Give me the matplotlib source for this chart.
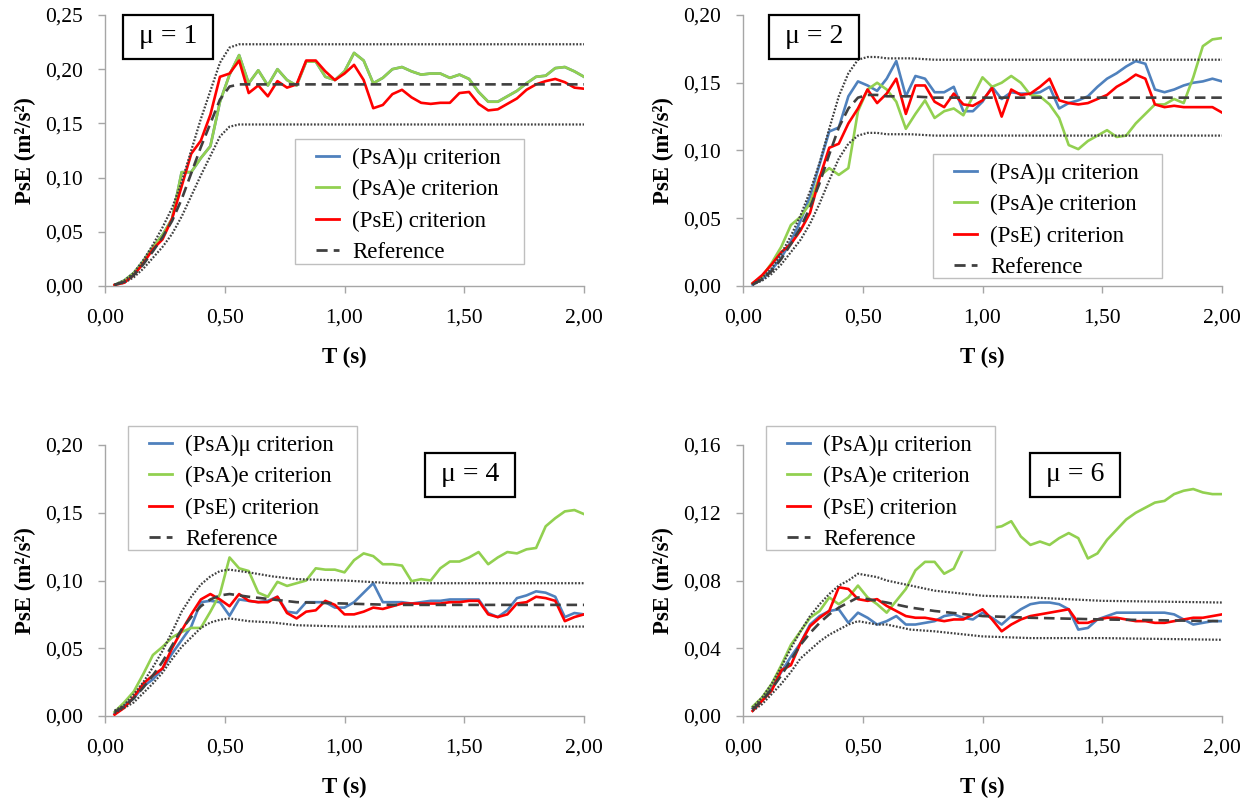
import numpy as np
import matplotlib
matplotlib.use('Agg')
import matplotlib.pyplot as plt
from matplotlib.ticker import FuncFormatter, MultipleLocator
from matplotlib.patches import Rectangle

plt.rcParams['font.family'] = ['Liberation Serif', 'DejaVu Serif']

# period grid of the criterion curves (s)
T = np.round(np.arange(1, 51) * 0.04, 2)
# coarser grid for the reference curve and its bounds
T_ref = [0.04, 0.08, 0.12, 0.16, 0.20, 0.24, 0.28, 0.32, 0.36, 0.40, 0.44, 0.48,
         0.52, 0.56, 0.60, 0.70, 0.80, 1.00, 1.20, 1.50, 2.00]

# ---- mu = 1
g1 = [0.001, 0.005, 0.012, 0.023, 0.036, 0.047, 0.062, 0.105, 0.105, 0.118,
      0.129, 0.170, 0.195, 0.213, 0.187, 0.199, 0.185, 0.200, 0.190, 0.185,
      0.207, 0.207, 0.193, 0.190, 0.198, 0.215, 0.208, 0.187, 0.192, 0.200,
      0.202, 0.198, 0.195, 0.196, 0.196, 0.192, 0.195, 0.191, 0.179, 0.170,
      0.170, 0.175, 0.180, 0.187, 0.193, 0.194, 0.201, 0.202, 0.198, 0.193]
b1 = g1  # (PsA)mu coincides with (PsA)e for mu = 1
r1 = [0.001, 0.003, 0.010, 0.021, 0.034, 0.043, 0.062, 0.092, 0.122, 0.134,
      0.158, 0.193, 0.196, 0.208, 0.178, 0.185, 0.175, 0.189, 0.183, 0.186,
      0.208, 0.208, 0.198, 0.190, 0.196, 0.204, 0.190, 0.164, 0.167, 0.177,
      0.181, 0.174, 0.169, 0.168, 0.169, 0.169, 0.178, 0.179, 0.168, 0.162,
      0.163, 0.168, 0.173, 0.181, 0.186, 0.189, 0.191, 0.188, 0.183, 0.182]
ref1 = [0.001, 0.004, 0.010, 0.020, 0.032, 0.045, 0.060, 0.080, 0.104, 0.128, 0.150,
        0.172, 0.184, 0.186, 0.186, 0.186, 0.186, 0.186, 0.186, 0.186, 0.186]
up1 = [0.001, 0.005, 0.012, 0.024, 0.038, 0.054, 0.072, 0.096, 0.125, 0.154, 0.180,
       0.206, 0.220, 0.223, 0.223, 0.223, 0.223, 0.223, 0.223, 0.223, 0.223]
lo1 = [0.001, 0.003, 0.008, 0.016, 0.026, 0.036, 0.048, 0.064, 0.083, 0.102, 0.120,
       0.138, 0.147, 0.149, 0.149, 0.149, 0.149, 0.149, 0.149, 0.149, 0.149]

# ---- mu = 2
b2 = [0.001, 0.005, 0.012, 0.021, 0.033, 0.048, 0.066, 0.090, 0.114, 0.117,
      0.140, 0.151, 0.148, 0.144, 0.153, 0.166, 0.140, 0.155, 0.153, 0.143,
      0.143, 0.147, 0.129, 0.129, 0.136, 0.147, 0.138, 0.143, 0.142, 0.142,
      0.143, 0.147, 0.131, 0.135, 0.137, 0.140, 0.147, 0.153, 0.157, 0.162,
      0.166, 0.164, 0.145, 0.143, 0.145, 0.148, 0.150, 0.151, 0.153, 0.151]
g2 = [0.002, 0.007, 0.017, 0.029, 0.045, 0.051, 0.061, 0.081, 0.087, 0.082,
      0.087, 0.129, 0.145, 0.150, 0.145, 0.136, 0.116, 0.127, 0.137, 0.124,
      0.129, 0.131, 0.126, 0.140, 0.154, 0.147, 0.150, 0.155, 0.150, 0.141,
      0.140, 0.134, 0.124, 0.104, 0.101, 0.107, 0.111, 0.115, 0.110, 0.111,
      0.120, 0.127, 0.134, 0.134, 0.138, 0.135, 0.154, 0.177, 0.182, 0.183]
r2 = [0.002, 0.008, 0.016, 0.025, 0.031, 0.041, 0.054, 0.080, 0.102, 0.105,
      0.120, 0.131, 0.145, 0.135, 0.142, 0.153, 0.127, 0.148, 0.148, 0.136,
      0.132, 0.142, 0.134, 0.133, 0.137, 0.146, 0.125, 0.145, 0.141, 0.142,
      0.147, 0.153, 0.137, 0.135, 0.134, 0.135, 0.138, 0.141, 0.147, 0.151,
      0.156, 0.153, 0.134, 0.132, 0.133, 0.132, 0.132, 0.132, 0.132, 0.128]
ref2 = [0.001, 0.005, 0.011, 0.020, 0.031, 0.043, 0.058, 0.076, 0.097, 0.117, 0.131,
        0.139, 0.141, 0.141, 0.140, 0.140, 0.139, 0.139, 0.139, 0.139, 0.139]
up2 = [0.001, 0.006, 0.013, 0.024, 0.037, 0.052, 0.070, 0.091, 0.116, 0.140, 0.157,
       0.167, 0.169, 0.169, 0.168, 0.168, 0.167, 0.167, 0.167, 0.167, 0.167]
lo2 = [0.001, 0.004, 0.009, 0.016, 0.025, 0.034, 0.046, 0.061, 0.078, 0.094, 0.105,
       0.111, 0.113, 0.113, 0.112, 0.112, 0.111, 0.111, 0.111, 0.111, 0.111]

# ---- mu = 4
b3 = [0.002, 0.008, 0.013, 0.022, 0.027, 0.035, 0.046, 0.056, 0.066, 0.084,
      0.085, 0.084, 0.074, 0.086, 0.085, 0.084, 0.085, 0.088, 0.077, 0.076,
      0.084, 0.084, 0.084, 0.080, 0.080, 0.084, 0.091, 0.098, 0.084, 0.084,
      0.084, 0.083, 0.084, 0.085, 0.085, 0.086, 0.086, 0.086, 0.086, 0.076,
      0.073, 0.078, 0.087, 0.089, 0.092, 0.091, 0.088, 0.073, 0.076, 0.075]
g3 = [0.003, 0.010, 0.018, 0.031, 0.045, 0.051, 0.058, 0.062, 0.065, 0.065,
      0.077, 0.090, 0.117, 0.109, 0.107, 0.091, 0.088, 0.099, 0.096, 0.098,
      0.100, 0.109, 0.108, 0.108, 0.106, 0.115, 0.120, 0.118, 0.112, 0.112,
      0.111, 0.0995, 0.101, 0.100, 0.109, 0.114, 0.114, 0.117, 0.121, 0.112,
      0.117, 0.121, 0.120, 0.123, 0.124, 0.140, 0.146, 0.151, 0.152, 0.149]
r3 = [0.001, 0.006, 0.014, 0.024, 0.030, 0.035, 0.050, 0.063, 0.075, 0.086,
      0.090, 0.086, 0.081, 0.090, 0.085, 0.084, 0.084, 0.088, 0.076, 0.072,
      0.077, 0.078, 0.085, 0.082, 0.075, 0.075, 0.077, 0.080, 0.079, 0.081,
      0.083, 0.083, 0.083, 0.083, 0.083, 0.084, 0.084, 0.085, 0.085, 0.075,
      0.073, 0.075, 0.083, 0.084, 0.088, 0.087, 0.085, 0.070, 0.073, 0.075]
ref3 = [0.003, 0.007, 0.013, 0.021, 0.030, 0.040, 0.052, 0.064, 0.073, 0.081, 0.086,
        0.089, 0.090, 0.089, 0.088, 0.086, 0.084, 0.083, 0.082, 0.082, 0.082]
up3 = [0.004, 0.008, 0.016, 0.025, 0.036, 0.048, 0.062, 0.077, 0.088, 0.097, 0.103,
       0.107, 0.108, 0.107, 0.106, 0.103, 0.101, 0.100, 0.098, 0.098, 0.098]
lo3 = [0.002, 0.006, 0.010, 0.017, 0.024, 0.032, 0.042, 0.051, 0.058, 0.065, 0.069,
       0.071, 0.072, 0.071, 0.070, 0.069, 0.067, 0.066, 0.066, 0.066, 0.066]

# ---- mu = 6
b4 = [0.0045, 0.0095, 0.017, 0.026, 0.035, 0.043, 0.054, 0.059, 0.062, 0.063,
      0.055, 0.061, 0.058, 0.054, 0.056, 0.059, 0.054, 0.054, 0.055, 0.056,
      0.059, 0.060, 0.058, 0.057, 0.061, 0.058, 0.054, 0.059, 0.063, 0.066,
      0.067, 0.067, 0.066, 0.063, 0.051, 0.052, 0.057, 0.059, 0.061, 0.061,
      0.061, 0.061, 0.061, 0.061, 0.060, 0.057, 0.054, 0.055, 0.056, 0.056]
g4 = [0.0055, 0.011, 0.019, 0.030, 0.042, 0.050, 0.058, 0.062, 0.070, 0.066,
      0.070, 0.077, 0.070, 0.066, 0.061, 0.068, 0.075, 0.086, 0.091, 0.091,
      0.084, 0.087, 0.099, 0.107, 0.110, 0.111, 0.112, 0.115, 0.106, 0.101,
      0.103, 0.101, 0.105, 0.108, 0.105, 0.093, 0.096, 0.104, 0.110, 0.116,
      0.120, 0.123, 0.126, 0.127, 0.131, 0.133, 0.134, 0.132, 0.131, 0.131]
r4 = [0.003, 0.009, 0.015, 0.027, 0.030, 0.043, 0.053, 0.058, 0.062, 0.076,
      0.075, 0.069, 0.068, 0.069, 0.065, 0.062, 0.059, 0.058, 0.058, 0.057,
      0.056, 0.057, 0.057, 0.060, 0.063, 0.057, 0.050, 0.054, 0.057, 0.059,
      0.060, 0.061, 0.062, 0.063, 0.055, 0.055, 0.057, 0.058, 0.058, 0.057,
      0.056, 0.056, 0.055, 0.055, 0.056, 0.057, 0.058, 0.058, 0.059, 0.060]
ref4 = [0.004, 0.009, 0.016, 0.024, 0.033, 0.042, 0.049, 0.055, 0.060, 0.064, 0.067,
        0.070, 0.069, 0.068, 0.067, 0.064, 0.062, 0.059, 0.058, 0.057, 0.056]
up4 = [0.005, 0.011, 0.019, 0.029, 0.040, 0.050, 0.059, 0.066, 0.072, 0.077, 0.080,
       0.084, 0.083, 0.082, 0.080, 0.077, 0.074, 0.071, 0.070, 0.068, 0.067]
lo4 = [0.003, 0.007, 0.013, 0.019, 0.026, 0.034, 0.039, 0.044, 0.048, 0.051, 0.054,
       0.056, 0.055, 0.054, 0.054, 0.051, 0.050, 0.047, 0.046, 0.046, 0.045]

mu_labels = ['μ = 1', 'μ = 2', 'μ = 4', 'μ = 6']
y_max = [0.25, 0.20, 0.20, 0.16]
y_step = [0.05, 0.05, 0.05, 0.04]

panels = [
    (b1, g1, r1, ref1, up1, lo1),
    (b2, g2, r2, ref2, up2, lo2),
    (b3, g3, r3, ref3, up3, lo3),
    (b4, g4, r4, ref4, up4, lo4),
]

W, H = 1251, 799
# axes rectangles in pixels: left, top, right, bottom
ax_px = [(105, 15, 584, 286), (743, 15, 1222, 286),
         (105, 445, 584, 716), (743, 445, 1222, 716)]
# label box (centre x, centre y) in axes fraction
box_pos = [(0.1315, 0.919), (0.149, 0.919), (0.762, 0.891), (0.694, 0.891)]
# legend frame in pixels: left, top, right, bottom
leg_px = [(295, 139, 524, 264), (933, 154, 1162, 278),
          (128, 426, 357, 550), (766, 426, 995, 550)]

BLUE = '#4F81BD'
GREEN = '#92D050'
RED = '#FF0000'
GREY = '#404040'
AXC = '#A6A6A6'

comma = FuncFormatter(lambda v, p: f'{v:.2f}'.replace('.', ','))

fig = plt.figure(figsize=(W / 100, H / 100), dpi=100)

for i, (b, g, r, ref, up, lo) in enumerate(panels):
    l, t, rr, bt = ax_px[i]
    aw, ah = rr - l, bt - t
    ax = fig.add_axes([l / W, 1 - bt / H, aw / W, ah / H])

    ax.plot(T, b, color=BLUE, lw=1.9, label='(PsA)μ criterion', zorder=3)
    ax.plot(T, g, color=GREEN, lw=1.9, label='(PsA)e criterion', zorder=3)
    ax.plot(T, r, color=RED, lw=1.9, label='(PsE) criterion', zorder=3)
    ax.plot(T_ref, ref, color=GREY, lw=1.9, ls=(0, (4, 2.2)), label='Reference', zorder=4)
    ax.plot(T_ref, up, color=GREY, lw=1.6, ls=(0, (0.8, 0.75)), zorder=4)
    ax.plot(T_ref, lo, color=GREY, lw=1.6, ls=(0, (0.8, 0.75)), zorder=4)

    ax.set_xlim(0, 2.0)
    ax.set_ylim(0, y_max[i])
    ax.xaxis.set_major_locator(MultipleLocator(0.5))
    ax.yaxis.set_major_locator(MultipleLocator(y_step[i]))
    ax.xaxis.set_major_formatter(comma)
    ax.yaxis.set_major_formatter(comma)

    for side in ['top', 'right']:
        ax.spines[side].set_visible(False)
    for side in ['left', 'bottom']:
        ax.spines[side].set_color(AXC)
        ax.spines[side].set_linewidth(1.0)
    ax.tick_params(axis='both', direction='out', length=5, width=1.0, color=AXC,
                   labelsize=15.5, labelcolor='black')
    ax.tick_params(axis='y', pad=11)
    ax.tick_params(axis='x', pad=11)

    ax.set_xlabel('T (s)', fontsize=16.5, fontweight='bold', labelpad=14)
    ax.set_ylabel('PsE (m²/s²)', fontsize=16.5, fontweight='bold', labelpad=6)

    # legend frame drawn separately (Excel style: wide side padding)
    fl, ft, fr, fb = leg_px[i]
    ax.add_patch(Rectangle(((fl - l) / aw, (bt - fb) / ah), (fr - fl) / aw, (fb - ft) / ah,
                           transform=ax.transAxes, facecolor='white',
                           edgecolor='#BFBFBF', lw=1.0, clip_on=False, zorder=5))
    leg = ax.legend(loc='upper left',
                    bbox_to_anchor=((fl + 21 - l) / aw, (bt - ft - 9) / ah),
                    borderaxespad=0, borderpad=0, frameon=False, fontsize=16.5,
                    handlelength=1.0, handletextpad=0.57, labelspacing=0.44)
    leg.set_zorder(6)
    for h in leg.get_lines():
        h.set_linewidth(2.0)

    cx, cy = box_pos[i]
    bw, bh = 90 / aw, 44 / ah
    ax.add_patch(Rectangle((cx - bw / 2, cy - bh / 2), bw, bh, transform=ax.transAxes,
                           facecolor='white', edgecolor='black', lw=1.6,
                           clip_on=False, zorder=7))
    ax.text(cx, cy, mu_labels[i], transform=ax.transAxes, ha='center', va='center',
            fontsize=20, zorder=8)

fig.savefig('out.png', dpi=100)
